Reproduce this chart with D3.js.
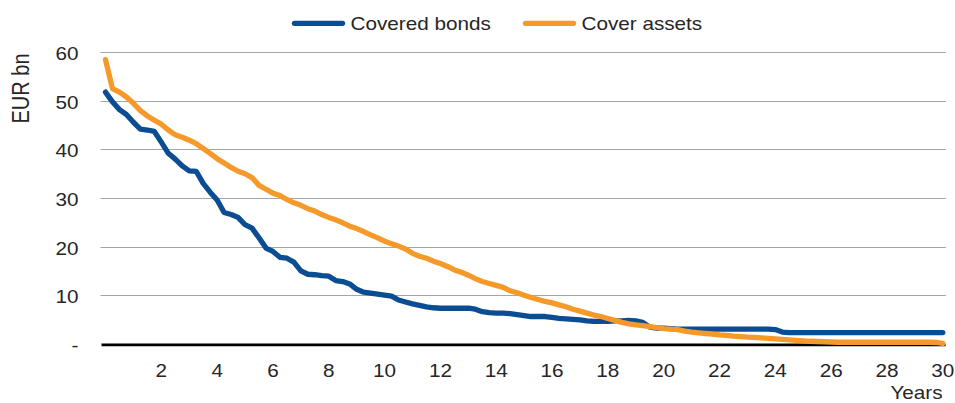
<!DOCTYPE html>
<html>
<head>
<meta charset="utf-8">
<script src="https://cdn.jsdelivr.net/npm/d3@7"></script>
<style>
  html, body { margin: 0; padding: 0; background: #fff; }
  svg { display: block; }
  text { font-family: "Liberation Sans", Arial, sans-serif; fill: #262626; }
</style>
</head>
<body>
<svg id="chart" width="955" height="403"></svg>
<script>
// ---- data (quarterly points, years 0..30) ----
const seriesNames = ["Covered bonds", "Cover assets"];
const seriesColors = ["#0b4d92", "#f59a2a"];
const quarterIndex = d3.range(121);
const coveredBonds = [
  51.8, 49.8, 48.2, 47.2, 45.6, 44.2, 44.0, 43.7, 41.5, 39.2,
  38.0, 36.6, 35.6, 35.5, 33.0, 31.2, 29.6, 27.0, 26.6, 26.0,
  24.5, 23.8, 21.8, 19.7, 19.0, 17.8, 17.6, 16.8, 15.0, 14.3,
  14.2, 14.0, 13.9, 13.0, 12.8, 12.3, 11.2, 10.6, 10.4, 10.2,
  10.0, 9.8, 9.0, 8.6, 8.2, 7.9, 7.6, 7.4, 7.3, 7.3,
  7.3, 7.3, 7.3, 7.1, 6.6, 6.4, 6.3, 6.3, 6.2, 6.0,
  5.8, 5.6, 5.6, 5.6, 5.4, 5.2, 5.1, 5.0, 4.9, 4.7,
  4.6, 4.6, 4.6, 4.7, 4.7, 4.8, 4.7, 4.4, 3.4, 3.2,
  3.2, 3.1, 3.0, 3.0, 3.0, 3.0, 3.0, 3.0, 3.0, 3.0,
  3.0, 3.0, 3.0, 3.0, 3.0, 3.0, 2.9, 2.4, 2.3, 2.3,
  2.3, 2.3, 2.3, 2.3, 2.3, 2.3, 2.3, 2.3, 2.3, 2.3,
  2.3, 2.3, 2.3, 2.3, 2.3, 2.3, 2.3, 2.3, 2.3, 2.3,
  2.3
];
const coverAssets = [
  58.5, 52.5, 51.8, 50.8, 49.5, 48.0, 46.9, 46.0, 45.2, 44.0,
  43.0, 42.5, 41.9, 41.2, 40.2, 39.2, 38.1, 37.2, 36.3, 35.5,
  35.0, 34.2, 32.6, 31.8, 31.0, 30.5, 29.7, 29.0, 28.5, 27.8,
  27.3, 26.6, 26.0, 25.5, 24.9, 24.2, 23.7, 23.1, 22.4, 21.8,
  21.1, 20.6, 20.1, 19.5, 18.6, 18.0, 17.6, 17.0, 16.5, 15.9,
  15.2, 14.7, 14.1, 13.4, 12.8, 12.4, 12.0, 11.6, 10.9, 10.5,
  10.0, 9.5, 9.1, 8.7, 8.4, 8.0, 7.6, 7.1, 6.7, 6.3,
  5.9, 5.6, 5.2, 4.8, 4.4, 4.1, 3.9, 3.7, 3.5, 3.3,
  3.1, 3.0, 2.9, 2.6, 2.4, 2.25, 2.1, 1.95, 1.8, 1.7,
  1.55, 1.45, 1.35, 1.3, 1.2, 1.1, 1.0, 0.9, 0.8, 0.7,
  0.6, 0.5, 0.45, 0.4, 0.35, 0.3, 0.3, 0.3, 0.3, 0.3,
  0.3, 0.3, 0.3, 0.3, 0.3, 0.3, 0.3, 0.3, 0.3, 0.25,
  0.05
];
const xTickValues = [2, 4, 6, 8, 10, 12, 14, 16, 18, 20, 22, 24, 26, 28, 30];
const yTickValues = [0, 10, 20, 30, 40, 50, 60];
const yTickLabels = ["-", "10", "20", "30", "40", "50", "60"];
const xAxisTitle = "Years";
const yAxisTitle = "EUR bn";

// ---- layout ----
const SX = 1.15;        // horizontal stretch of the reference text
const FS = 18;
const svg = d3.select("#chart");
const x = d3.scaleLinear().domain([0, 30]).range([105.5, 942.8]);
const y = d3.scaleLinear().domain([0, 60]).range([343.7, 52.3]);
const qYear = i => i / 4;

// gridlines
const grid = svg.append("g");
grid.selectAll("line")
  .data(yTickValues.filter(v => v > 0))
  .join("line")
  .attr("x1", 100.5).attr("x2", 946)
  .attr("y1", d => Math.round(y(d)) + 0.5).attr("y2", d => Math.round(y(d)) + 0.5)
  .attr("stroke", "#a6a6a6").attr("stroke-width", 1);

// y axis labels
const yAxis = svg.append("g");
yAxis.selectAll("text")
  .data(yTickValues)
  .join("text")
  .attr("transform", d => `translate(78.5,${y(d) + 8}) scale(${SX},1)`)
  .attr("text-anchor", "end")
  .attr("font-size", FS)
  .text((d, i) => yTickLabels[i]);

// x axis baseline
const xAxisG = svg.append("g");
xAxisG.append("line")
  .attr("x1", 101.5).attr("x2", 945.5)
  .attr("y1", y(0) + 1.2).attr("y2", y(0) + 1.2)
  .attr("stroke", "#000").attr("stroke-width", 2.6);
xAxisG.selectAll("text.tick")
  .data(xTickValues)
  .join("text")
  .attr("class", "tick")
  .attr("transform", d => `translate(${x(d)},377) scale(${SX},1)`)
  .attr("text-anchor", "middle")
  .attr("font-size", FS)
  .text(d => d);

// axis titles
svg.append("text")
  .attr("transform", `translate(916.5,399) scale(${SX},1)`)
  .attr("text-anchor", "middle")
  .attr("font-size", FS)
  .text(xAxisTitle);
svg.append("text")
  .attr("transform", `translate(28.5,88.5) scale(${SX},1) rotate(-90)`)
  .attr("text-anchor", "middle")
  .attr("font-size", 20)
  .text(yAxisTitle);

// lines
const line = d3.line()
  .x((d, i) => x(qYear(quarterIndex[i])))
  .y(d => y(d));
const allSeries = [coveredBonds, coverAssets];
svg.append("g").selectAll("path")
  .data(allSeries)
  .join("path")
  .attr("d", d => line(d))
  .attr("fill", "none")
  .attr("stroke", (d, i) => seriesColors[i])
  .attr("stroke-width", 5.3)
  .attr("stroke-linejoin", "round")
  .attr("stroke-linecap", "round");

// legend
const legendX = [294.5, 525.5];
const legend = svg.append("g");
const items = legend.selectAll("g").data(seriesNames).join("g")
  .attr("transform", (d, i) => `translate(${legendX[i]},0)`);
items.append("line")
  .attr("x1", 0).attr("x2", 48)
  .attr("y1", 23.3).attr("y2", 23.3)
  .attr("stroke", (d, i) => seriesColors[i])
  .attr("stroke-width", 5.3)
  .attr("stroke-linecap", "round");
items.append("text")
  .attr("transform", `translate(56,30) scale(${SX},1)`)
  .attr("font-size", FS)
  .text(d => d);
</script>
</body>
</html>
